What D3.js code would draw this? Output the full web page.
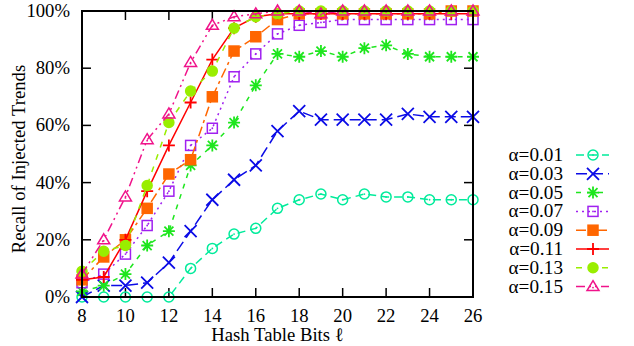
<!DOCTYPE html>
<meta charset="utf-8">
<script src="https://d3js.org/d3.v7.min.js"></script>
<style>
  body{ margin:0; background:#fff; }
  text{ font-family:'Liberation Serif','Times New Roman',serif; fill:#000; }
</style>
<div id="chart"></div>
<script>
// hash table bits on the x axis
var bits = [8,9,10,11,12,13,14,15,16,17,18,19,20,21,22,23,24,25,26]
var xTicks = [8,10,12,14,16,18,20,22,24,26]
var yTicks = [0,20,40,60,80,100]

// recall (%) per alpha
var alphas = ["0.01","0.03","0.05","0.07","0.09","0.11","0.13","0.15"]
var r001 = [0,0,0,0,0,10,17,22,24,31,34,36,34,36,35,35,34,34,34]
var r003 = [0,4,4,5,12,23,34,41,46,58,65,62,62,62,62,64,63,63,63]
var r005 = [2,4,8,18,23,46,53,61,74,85,84,86,84,87,88,85,84,84,84]
var r007 = [5,8,15,25,37,53,59,77,85,92,95,96,97,97,97,97,97,97,97]
var r009 = [6,14,20,31,43,48,70,86,91,97,99,99,99,99,99,99,99,100,100]
var r011 = [6,7,20,37,53,68,83,94,98,99,99,99,99,99,99,99,99,99,99]
var r013 = [9,16,18,39,61,72,79,94,98,99,100,100,100,100,100,100,100,100,100]
var r015 = [8,20,35,55,64,82,95,98,99,100,100,99,100,100,100,100,100,100,100]
var recall = [r001,r003,r005,r007,r009,r011,r013,r015]

var colors = ["#00eb9b","#0b0be6","#1ee61e","#a020f0","#ff6600","#ff0000","#99ee00","#f0138a"]
var dashes = ["8,5","11,5","5,6","2,4","10,4,3,4",null,"6,7","9,4,2,4,2,4"]
var markers = ["circleDot","x","star","squareDot","squareFill","plus","circleFill","triangle"]

var W = 634, H = 346
var pLeft = 82, pRight = 473, pTop = 11, pBottom = 297
var fs = "18.7px"

var svg = d3.select("#chart").append("svg").attr("width",W).attr("height",H)

var x = d3.scaleLinear().domain([8,26]).range([pLeft,pRight])
var y = d3.scaleLinear().domain([0,100]).range([pBottom,pTop])

// ticks, inward on all four sides
var tl = 9
var g = svg.append("g").attr("stroke","#000").attr("stroke-width",1.5)
xTicks.forEach(function(t){
  g.append("line").attr("x1",x(t)).attr("x2",x(t)).attr("y1",pBottom).attr("y2",pBottom-tl)
  g.append("line").attr("x1",x(t)).attr("x2",x(t)).attr("y1",pTop).attr("y2",pTop+tl)
})
yTicks.forEach(function(t){
  g.append("line").attr("x1",pLeft).attr("x2",pLeft+tl).attr("y1",y(t)).attr("y2",y(t))
  g.append("line").attr("x1",pRight).attr("x2",pRight-tl).attr("y1",y(t)).attr("y2",y(t))
})

svg.selectAll(".xl").data(xTicks).join("text")
  .attr("x",d=>x(d)).attr("y",322).attr("text-anchor","middle")
  .style("font-size",fs).text(d=>d)
svg.selectAll(".yl").data(yTicks).join("text")
  .attr("x",70).attr("y",d=>y(d)+6).attr("text-anchor","end")
  .style("font-size",fs).text(d=>d+"%")

svg.append("text").attr("x",(pLeft+pRight)/2).attr("y",341).attr("text-anchor","middle")
  .style("font-size",fs).text("Hash Table Bits \u2113")
svg.append("text").attr("transform","translate(25,159) rotate(-90)").attr("text-anchor","middle")
  .style("font-size",fs).text("Recall of Injected Trends")

function drawMarker(sel, type, color){
  var s = 5
  if(type=="circleDot"||type=="circleFill"){
    sel.append("circle").attr("r",s).attr("fill",type=="circleFill"?color:"none")
      .attr("stroke",color).attr("stroke-width",1.5)
    if(type=="circleDot") sel.append("circle").attr("r",0.9).attr("fill",color)
  }else if(type=="squareDot"||type=="squareFill"){
    sel.append("rect").attr("x",-s).attr("y",-s).attr("width",2*s).attr("height",2*s)
      .attr("fill",type=="squareFill"?color:"none")
      .attr("stroke",color).attr("stroke-width",1.5)
    if(type=="squareDot") sel.append("circle").attr("r",0.9).attr("fill",color)
  }else if(type=="x"){
    sel.append("path").attr("d","M-6,-6L6,6M-6,6L6,-6").attr("stroke",color).attr("stroke-width",1.8)
  }else if(type=="plus"){
    sel.append("path").attr("d","M-6,0L6,0M0,-6L0,6").attr("stroke",color).attr("stroke-width",1.8)
  }else if(type=="star"){
    sel.append("path").attr("d","M-6,0L6,0M0,-6L0,6M-4.5,-4.5L4.5,4.5M-4.5,4.5L4.5,-4.5")
      .attr("stroke",color).attr("stroke-width",1.8)
  }else if(type=="triangle"){
    sel.append("path").attr("d","M0,-6L6,4L-6,4Z").attr("fill","none")
      .attr("stroke",color).attr("stroke-width",1.5)
    sel.append("circle").attr("r",0.9).attr("cy",1).attr("fill",color)
  }
}

var line = d3.line().x((d,i)=>x(bits[i])).y(d=>y(d))

recall.forEach(function(vals,k){
  svg.append("path").attr("d",line(vals)).attr("fill","none")
    .attr("stroke",colors[k]).attr("stroke-width",1.5)
    .attr("stroke-dasharray",dashes[k])
  vals.forEach(function(v,i){
    var m = svg.append("g").attr("transform","translate("+x(bits[i])+","+y(v)+")")
    drawMarker(m, markers[k], colors[k])
  })
})

// frame
svg.append("rect").attr("x",pLeft).attr("y",pTop).attr("width",pRight-pLeft).attr("height",pBottom-pTop)
  .attr("fill","none").attr("stroke","#000").attr("stroke-width",2)

// legend
alphas.forEach(function(a,k){
  var ly = 155 + k*18.8
  svg.append("text").attr("x",563).attr("y",ly+6).attr("text-anchor","end")
    .style("font-size","19.2px").text("\u03b1="+a)
  svg.append("line").attr("x1",576).attr("x2",609).attr("y1",ly).attr("y2",ly)
    .attr("stroke",colors[k]).attr("stroke-width",1.5).attr("stroke-dasharray",dashes[k])
  var m = svg.append("g").attr("transform","translate(593,"+ly+")")
  drawMarker(m, markers[k], colors[k])
})
</script>
